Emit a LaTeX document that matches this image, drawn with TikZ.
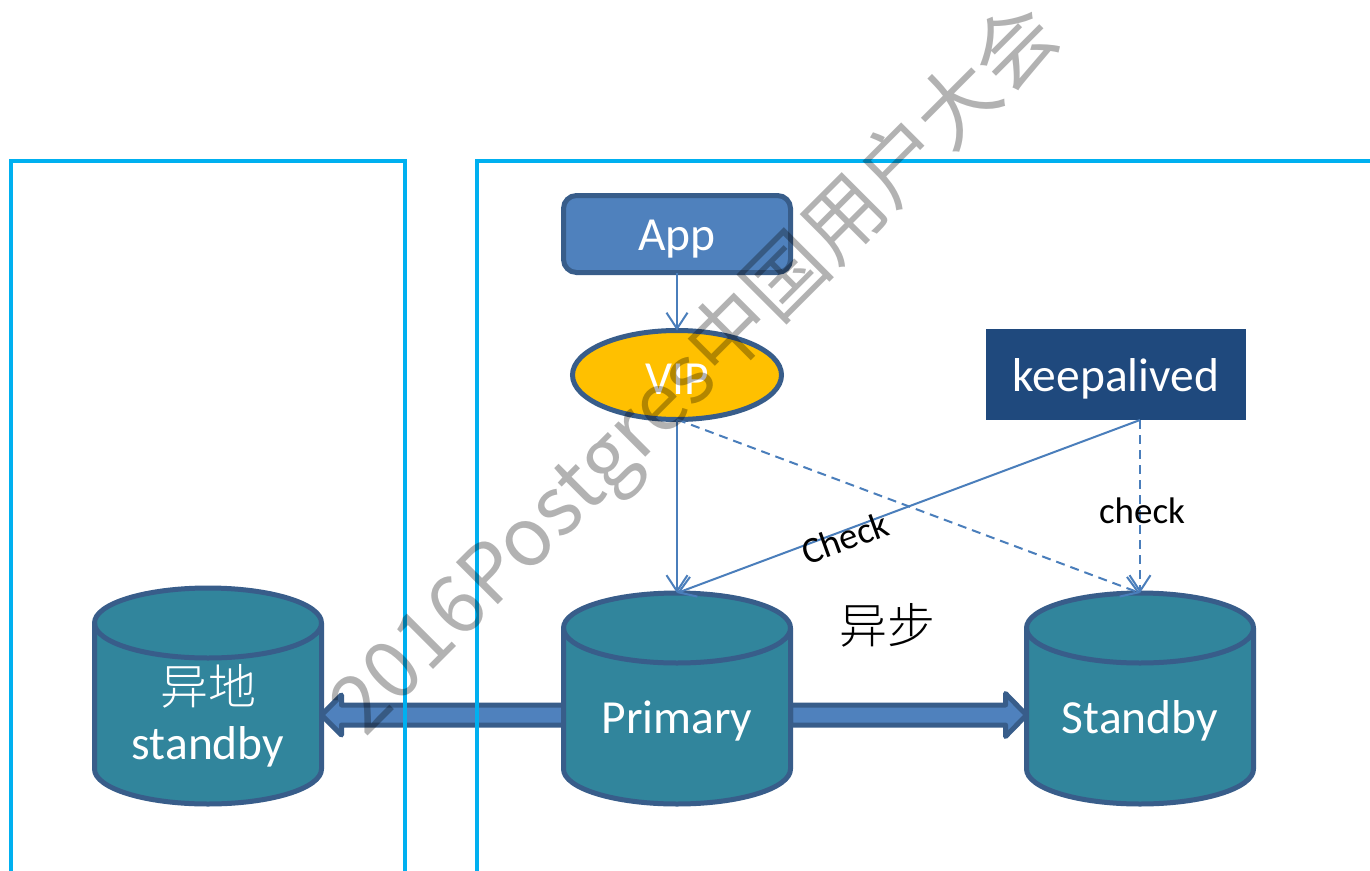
\documentclass[tikz,border=0pt]{standalone}
\usepackage{fontspec}
\usetikzlibrary{calc,arrows.meta,shapes.geometric}
\setmainfont{Carlito}
\newfontfamily\cjk{Noto Sans CJK SC Light}
\newfontfamily\wmfont{Noto Sans CJK SC}
\definecolor{frameC}{HTML}{00B0F0}
\definecolor{blueF}{HTML}{4F81BD}
\definecolor{blueS}{HTML}{385D8A}
\definecolor{tealF}{HTML}{31859C}
\definecolor{lineC}{HTML}{4A7EBB}
\definecolor{navyF}{HTML}{1F497D}
\definecolor{goldF}{HTML}{FFC000}
\tikzset{
  framebox/.style={draw=frameC,line width=3.5pt,inner sep=0pt,outer sep=0pt},
  appbox/.style={draw=blueS,fill=blueF,line width=5pt,rounded corners=13pt,minimum width=227pt,minimum height=77pt,inner sep=0pt,outer sep=0pt},
  vipbox/.style={draw=blueS,fill=goldF,line width=5pt,inner sep=0pt,outer sep=0pt},
  keepbox/.style={fill=navyF,minimum width=260pt,minimum height=91pt,inner sep=0pt,outer sep=0pt},
  cylbox/.style={minimum width=227pt,inner sep=0pt,outer sep=0pt},
  cylbody/.style={draw=blueS,fill=tealF,line width=5pt,line join=round},
  cyltop/.style={draw=blueS,line width=5pt},
  cyltext/.style={text=white,font=\fontsize{47.5}{47.5}\selectfont,inner sep=0pt},
  cjktext/.style={font=\cjk\fontsize{48}{48}\selectfont,inner sep=0pt},
  conn/.style={draw=lineC,line width=2pt,-{Straight Barb[length=16pt,width=21pt,line width=2pt]}},
  conndash/.style={conn,dash pattern=on 9pt off 6pt},
  blockarrow/.style={draw=blueS,fill=blueF,line width=5pt,line join=round},
  lab/.style={text=black,font=\fontsize{37}{37}\selectfont,inner sep=0pt},
  wmark/.style={text=black,text opacity=0.3,font=\wmfont\fontsize{81}{81}\selectfont,inner sep=0pt,outer sep=0pt}
}
\newcommand{\mycyl}[1]{%
  \draw[cylbody] ($(#1.north west)+(0,35)$) -- ($(#1.south west)+(0,-35)$)
    arc[start angle=180,end angle=360,x radius=113.5pt,y radius=35pt]
    -- ($(#1.north east)+(0,35)$)
    arc[start angle=0,end angle=180,x radius=113.5pt,y radius=35pt] -- cycle;
  \draw[cyltop] ($(#1.north west)+(0,35)$)
    arc[start angle=180,end angle=360,x radius=113.5pt,y radius=35pt];
}
\begin{document}
\begin{tikzpicture}[x=1pt,y=-1pt]
\useasboundingbox (0,0) rectangle (1370,870);
\fill[white] (0,0) rectangle (1370,870);
\clip (0,0) rectangle (1370,870);
% cylinders geometry
\node[cylbox,minimum height=216pt] (alt) at (208,696) {};
\node[cylbox,minimum height=211pt] (primary) at (677,698.5) {};
\node[cylbox,minimum height=211pt] (standby) at (1140,698.5) {};
% block arrows
\draw[blockarrow] ($(primary.west)+(0,6.5)$) -- ($(alt.east)+(20,9)$) -- ($(alt.east)+(20,-1)$)
   -- ($(alt.east)+(0,19)$) -- ($(alt.east)+(20,39)$) -- ($(alt.east)+(20,29)$) -- ($(primary.west)+(0,26.5)$) -- cycle;
\draw[blockarrow] ($(primary.east)+(0,6.5)$) -- ($(standby.west)+(-21,6.5)$) -- ($(standby.west)+(-21,-5)$)
   -- ($(standby.west)+(0,16.5)$) -- ($(standby.west)+(-21,38)$) -- ($(standby.west)+(-21,26.5)$) -- ($(primary.east)+(0,26.5)$) -- cycle;
\mycyl{alt}
\mycyl{primary}
\mycyl{standby}
% frames
\node[framebox,minimum width=394pt,minimum height=1000pt] (leftframe) at (208,661) {};
\node[framebox,minimum width=1123pt,minimum height=1000pt] (rightframe) at (1038.5,661) {};
% boxes
\node[appbox] (app) at (677,234) {};
\node[vipbox,ellipse,minimum width=209pt,minimum height=89pt] (vip) at (677,375) {};
\node[keepbox] (keep) at (1116,374.5) {};
\coordinate (keepout) at (standby.north |- keep.south);
% connectors
\draw[conn] (app.south) -- (vip.north);
\draw[conn] (vip.south) -- (primary.north);
\draw[conndash] (vip.south) -- (standby.north);
\draw[conn] (keepout) -- (primary.north);
\draw[conndash] (keepout) -- (standby.north);
% labels
\node[cyltext] (apptext) at (677,239.5) {App};
\node[cyltext] (viptext) at (677,379.5) {VIP};
\node[cyltext] (keeptext) at (1116,379) {keepalived};
\node[cyltext] (primarytext) at (677,721) {Primary};
\node[cyltext] (standbytext) at (1140,721) {Standby};
\node[cyltext] (alttext) at (208,747) {standby};
\node[cjktext,text=white] (altcjk) at (208,686) {异地};
\node[cjktext,text=black] (async) at (887,625) {异步};
\node[lab,rotate=20] (checka) at (845,538) {Check};
\node[lab] (checkb) at (1142,511) {check};
% watermark
\node[wmark,rotate=45,anchor=base west] (wm) at (365,738) {2016Postgres中国用户大会};
\end{tikzpicture}
\end{document}
